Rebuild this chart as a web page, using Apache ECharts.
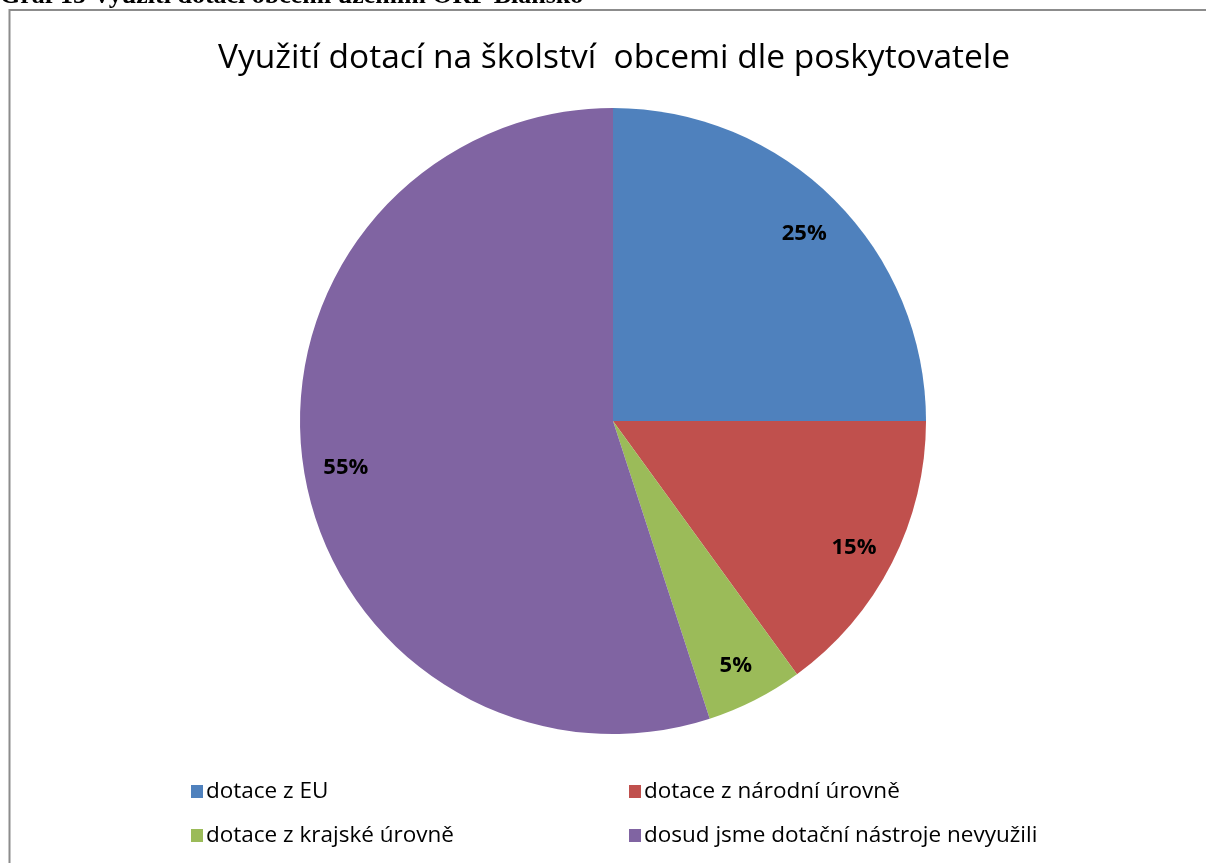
<!DOCTYPE html>
<html>
<head>
<meta charset="utf-8">
<script src="https://cdn.jsdelivr.net/npm/echarts@6/dist/echarts.min.js"></script>
<style>
  html, body { margin: 0; padding: 0; background: #fff; }
  #chart { width: 1206px; height: 863px; }
</style>
</head>
<body>
<div id="chart"></div>
<script>
const caption = 'Graf 15 Využití dotací obcemi územím ORP Blansko';
const chartTitle = 'Využití dotací na školství  obcemi dle poskytovatele';
const categories = ['dotace z EU', 'dotace z národní úrovně', 'dotace z krajské úrovně', 'dosud jsme dotační nástroje nevyužili'];
const shares = [25, 15, 5, 55];
const colors = ['#4F81BD', '#C0504D', '#9BBB59', '#8064A2'];

const font = '"Open Sans", "Noto Sans", sans-serif';
const pieData = categories.map((name, i) => ({ name, value: shares[i], itemStyle: { color: colors[i] } }));

// one legend per entry so the 2x2 grid lands where Excel put it
const legendSpots = [[186, 775], [624, 775], [186, 819], [624, 819]];
const legends = categories.map((name, i) => ({
  data: [name],
  left: legendSpots[i][0],
  top: legendSpots[i][1],
  itemWidth: 12,
  itemHeight: 13,
  itemGap: 0,
  icon: 'rect',
  selectedMode: false,
  textStyle: { fontFamily: font, fontSize: 22.5, color: '#000', padding: [0, 0, 0, -2] }
}));

const chart = echarts.init(document.getElementById('chart'));
chart.setOption({
  animation: false,
  color: colors,
  title: {
    text: chartTitle,
    left: 213,
    top: 36,
    textStyle: { fontFamily: font, fontSize: 33.5, fontWeight: 'normal', color: '#000' }
  },
  legend: legends,
  graphic: [
    {
      type: 'rect',
      shape: { x: 9.5, y: 10, width: 1300, height: 900 },
      style: { fill: 'none', stroke: '#8c8c8c', lineWidth: 2 },
      silent: true
    },
    {
      type: 'text',
      left: 0,
      top: -17,
      style: { text: caption, font: 'bold 26px "Liberation Serif", serif', fill: '#000' },
      silent: true
    }
  ],
  series: [
    {
      type: 'pie',
      center: [613, 421],
      radius: [0, 313],
      startAngle: 90,
      clockwise: true,
      label: { show: false },
      labelLine: { show: false },
      emphasis: { disabled: true },
      data: pieData
    },
    {
      // invisible ring, just to put the % labels out near the rim
      type: 'pie',
      center: [613, 425],
      radius: [222, 313],
      startAngle: 90,
      clockwise: true,
      silent: true,
      itemStyle: { color: 'transparent' },
      label: {
        show: true,
        position: 'inside',
        formatter: '{c}%',
        fontFamily: font,
        fontSize: 22,
        fontWeight: 'bold',
        color: '#000'
      },
      labelLine: { show: false },
      data: categories.map((name, i) => ({ name, value: shares[i] }))
    }
  ]
});
</script>
</body>
</html>
